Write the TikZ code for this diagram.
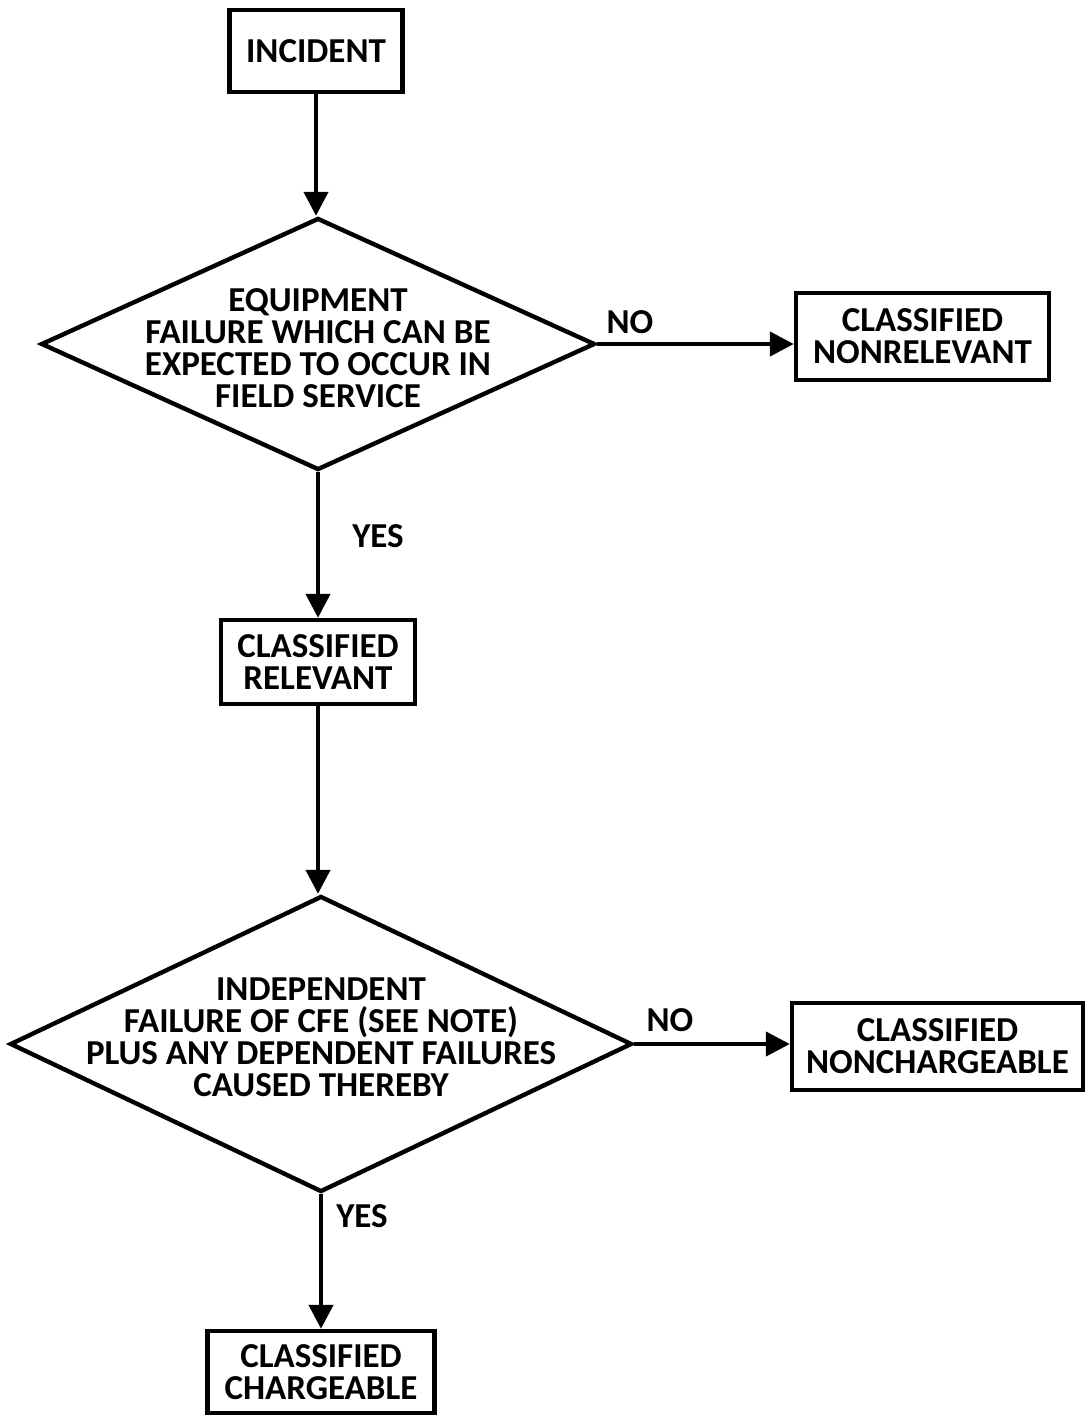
\documentclass[tikz,border=0pt]{standalone}
\usepackage{fontspec}
\setmainfont{Carlito}
\usetikzlibrary{shapes.geometric,arrows.meta}
\tikzset{
  every node/.style={font=\bfseries\fontsize{17.5pt}{16pt}\selectfont},
  boxnode/.style={draw, line width=2.2pt, align=center, inner sep=0pt},
  dianode/.style={draw, line width=2.2pt, shape=diamond, inner sep=0pt},
  dtext/.style={align=center, inner sep=0pt},
  lbl/.style={inner sep=0pt},
  flow/.style={line width=2.2pt, -{Triangle[length=12pt,width=12pt]}}
}
\begin{document}
\begin{tikzpicture}[x=0.5pt,y=-0.5pt]
\useasboundingbox (0,0) rectangle (1087,1415);
\node[boxnode, minimum width=86.5pt, minimum height=41pt] (inc) at (316,51) {INCIDENT};
\node[dianode, minimum width=277pt, minimum height=126pt] (d1) at (318,344) {};
\node[dtext] (t1) at (318,348) {EQUIPMENT\\FAILURE WHICH CAN BE\\EXPECTED TO OCCUR IN\\FIELD SERVICE};
\node[boxnode, minimum width=126.5pt, minimum height=43.5pt] (nrel) at (922.5,336.5) {CLASSIFIED\\NONRELEVANT};
\node[boxnode, minimum width=97pt, minimum height=42pt] (rel) at (318,662) {CLASSIFIED\\RELEVANT};
\node[dianode, minimum width=311pt, minimum height=148pt] (d2) at (321,1044) {};
\node[dtext] (t2) at (321,1037) {INDEPENDENT\\FAILURE OF CFE (SEE NOTE)\\PLUS ANY DEPENDENT FAILURES\\CAUSED THEREBY};
\node[boxnode, minimum width=145.5pt, minimum height=43.5pt] (nchg) at (937.5,1046.5) {CLASSIFIED\\NONCHARGEABLE};
\node[boxnode, minimum width=113.5pt, minimum height=41pt] (chg) at (321,1372) {CLASSIFIED\\CHARGEABLE};
\node[lbl] (no1) at (630,322) {NO};
\node[lbl] (yes1) at (378,536) {YES};
\node[lbl] (no2) at (670,1020) {NO};
\node[lbl] (yes2) at (362,1216) {YES};
\draw[flow] (inc.south) -- (inc.south |- d1.north);
\draw[flow] (d1.east) -- (nrel.west |- d1.east);
\draw[flow] (d1.south) -- (rel.north);
\draw[flow] (rel.south) -- (rel.south |- d2.north);
\draw[flow] (d2.east) -- (nchg.west |- d2.east);
\draw[flow] (d2.south) -- (chg.north);
\end{tikzpicture}
\end{document}
